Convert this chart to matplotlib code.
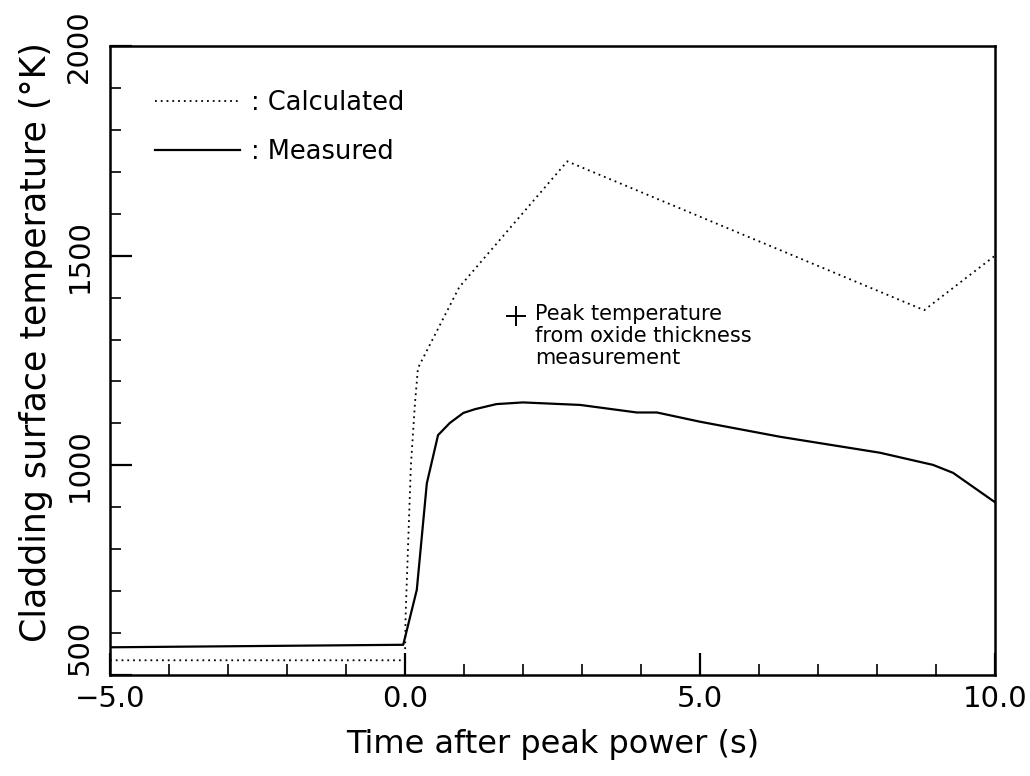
"""Cladding surface temperature: calculated vs measured."""

import matplotlib
matplotlib.use("Agg")
import matplotlib.pyplot as plt
from matplotlib.ticker import MultipleLocator

# time after peak power (s) and temperature (K)
calc_time = [-5.0, 0.0, 0.01, 0.10, 0.17, 0.22, 0.92, 2.75, 8.80, 10.0]
calc_temp = [535, 535, 640, 1000, 1150, 1232, 1425, 1725, 1370, 1500]

meas_time = [-5.0, -0.03, 0.20, 0.37, 0.56, 0.76, 0.99, 1.19, 1.55, 2.0,
             2.97, 3.93, 4.27, 5.0, 6.36, 8.05, 8.95, 9.29, 10.0]
meas_temp = [566, 572, 703, 957, 1072, 1101, 1125, 1134, 1146, 1150,
             1144, 1126, 1126, 1104, 1068, 1030, 1001, 982, 912]

x_ticks = [-5.0, 0.0, 5.0, 10.0]
y_ticks = [500, 1000, 1500, 2000]

plt.rcParams.update({
    "font.family": "DejaVu Sans",
    "xtick.direction": "in",
    "ytick.direction": "in",
})

fig = plt.figure(figsize=(10.3, 7.76), dpi=100)
ax = fig.add_axes([0.1068, 0.1302, 0.8592, 0.8105])

ax.plot(calc_time, calc_temp, color="black", linestyle=(0, (1, 2.2)),
        linewidth=1.3, label=": Calculated")
ax.plot(meas_time, meas_temp, color="black", linestyle="-",
        linewidth=1.6, label=": Measured")

ax.set_xlim(-5, 10)
ax.set_ylim(500, 2000)
ax.set_xticks(x_ticks)
ax.set_xticklabels([f"{v:.1f}".replace("-", "\u2212") for v in x_ticks])
ax.set_yticks(y_ticks)
ax.set_yticklabels([str(v) for v in y_ticks], rotation=90, va="center")
ax.get_yticklabels()[0].set_va("bottom")
ax.xaxis.set_minor_locator(MultipleLocator(1.0))
ax.yaxis.set_minor_locator(MultipleLocator(100))

ax.tick_params(which="major", length=16, width=1.6, labelsize=21, pad=7)
ax.tick_params(which="minor", length=8, width=1.2)
ax.tick_params(axis="y", which="major", pad=12)
for spine in ax.spines.values():
    spine.set_linewidth(1.8)

ax.set_xlabel("Time after peak power (s)", fontsize=23, labelpad=12)
ax.set_ylabel("Cladding surface temperature (°K)", fontsize=25)
ax.yaxis.set_label_coords(-0.064, 0.53)

leg = ax.legend(loc="upper left", bbox_to_anchor=(0.051, 0.93),
                frameon=False, fontsize=18.5, handlelength=3.3,
                handletextpad=0.45, labelspacing=0.9,
                borderpad=0, borderaxespad=0)

# key for the oxide-thickness estimate
ax.plot([1.88], [1356], marker="+", color="black", markersize=14,
        markeredgewidth=1.4, linestyle="none")
ax.text(2.2, 1384, "Peak temperature\nfrom oxide thickness\nmeasurement",
        fontsize=15, va="top", ha="left", linespacing=1.1)

fig.savefig("out.png", dpi=100)
plt.close(fig)
